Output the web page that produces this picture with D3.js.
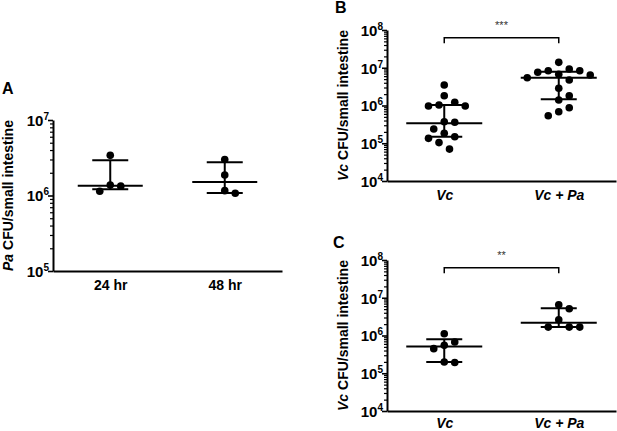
<!DOCTYPE html>
<html>
<head>
<meta charset="utf-8">
<script src="https://cdn.jsdelivr.net/npm/d3@7"></script>
<style>
  body { margin: 0; background: #fff; }
  svg { font-family: "Liberation Sans", Arial, sans-serif; }
</style>
</head>
<body>
<div id="chart"></div>
<script>
// ---- data ----
var groupsA = ["24 hr", "48 hr"];
var valuesA = [
  [3.4e6, 1.38e6, 1.33e6, 1.14e6],
  [3.0e6, 1.87e6, 1.07e6, 1.16e6]
];
var medianA = [1.35e6, 1.51e6];
var lowerA = [1.21e6, 1.08e6];
var upperA = [2.93e6, 2.75e6];

var groupsB = ["Vc", "Vc + Pa"];
var valuesB = [
  [3.49e6, 1.82e6, 1.22e6, 9.7e5, 1.03e6, 9.7e5, 3.59e5, 3.72e5, 2.38e5, 1.84e5, 1.35e5, 1.49e5, 1.04e5, 7.0e4],
  [1.39e7, 9.27e6, 8.36e6, 7.57e6, 8.36e6, 5.45e6, 6.7e6, 6.43e6, 4.73e6, 2.86e6, 1.82e6, 1.4e6, 8.75e5, 6.86e5, 5.37e5]
];
var medianB = [3.37e5, 5.45e6];
var lowerB = [1.49e5, 1.46e6];
var upperB = [1.03e6, 7.85e6];
var signifB = "***";

var groupsC = ["Vc", "Vc + Pa"];
var valuesC = [
  [1.11e6, 5.48e5, 6.7e5, 4.49e5, 1.92e5, 1.99e5],
  [6.5e6, 5.1e6, 2.61e6, 1.67e6, 1.67e6, 1.67e6]
];
var medianC = [5.15e5, 2.18e6];
var lowerC = [1.99e5, 1.67e6];
var upperC = [7.9e5, 5.28e6];
var signifC = "**";

var svg = d3.select("#chart")
  .append("svg")
    .attr("width", 617)
    .attr("height", 431);

// draw one panel of the figure
function drawPanel(opt) {
  var width = 229, height = 151;
  var g = svg.append("g")
    .attr("transform", "translate(" + opt.left + "," + opt.top + ")");

  var x = d3.scalePoint()
    .domain(opt.groups)
    .range([0, width])
    .padding(0.5);

  var y = d3.scaleLog()
    .domain(opt.yDomain)
    .range([height, 0]);

  var lo = Math.log10(opt.yDomain[0]), hi = Math.log10(opt.yDomain[1]);
  var majors = d3.range(lo, hi + 1).map(function (e) { return Math.pow(10, e); });
  var minors = [];
  d3.range(lo, hi).forEach(function (e) {
    for (var m = 2; m <= 9; m++) minors.push(m * Math.pow(10, e));
  });

  // minor ticks
  g.append("g")
    .call(d3.axisLeft(y).tickValues(minors).tickSize(3).tickFormat(""))
    .call(function (a) { a.select(".domain").remove(); })
    .selectAll("line").attr("stroke-width", 1.2);

  // major ticks + labels
  var yAxis = g.append("g")
    .call(d3.axisLeft(y).tickValues(majors).tickSize(5).tickSizeOuter(0).tickFormat(""));
  yAxis.select(".domain").attr("stroke-width", 2);
  yAxis.selectAll("line").attr("stroke-width", 1.6);
  yAxis.selectAll(".tick").append("text")
    .attr("x", -4)
    .attr("dy", "0.35em")
    .attr("fill", "#000")
    .attr("text-anchor", "end")
    .style("font-size", "15px")
    .style("font-weight", "bold")
    .each(function (d) {
      var t = d3.select(this);
      t.append("tspan").text("10");
      t.append("tspan")
        .attr("dy", "-0.6em")
        .style("font-size", "10px")
        .text(Math.round(Math.log10(d)));
    });

  // x axis
  var xAxis = g.append("g")
    .attr("transform", "translate(0," + height + ")")
    .call(d3.axisBottom(x).tickSize(0).tickPadding(0).tickFormat(""));
  xAxis.select(".domain").attr("stroke-width", 2);
  xAxis.selectAll(".tick").append("text")
    .attr("y", opt.xLabelY)
    .attr("fill", "#000")
    .attr("text-anchor", "middle")
    .style("font-size", "14px")
    .style("font-weight", "bold")
    .style("font-style", opt.italicX ? "italic" : "normal")
    .text(function (d) { return d; });

  // y axis title
  var title = g.append("text")
    .attr("transform", "translate(" + opt.titleX + "," + (height / 2) + ") rotate(-90)")
    .attr("text-anchor", "middle")
    .style("font-size", "14px")
    .style("font-weight", "bold");
  title.append("tspan").style("font-style", "italic").text(opt.titleItalic);
  title.append("tspan").text(" CFU/small intestine");

  // panel letter
  svg.append("text")
    .attr("x", opt.letterX)
    .attr("y", opt.letterY)
    .style("font-size", "16px")
    .style("font-weight", "bold")
    .text(opt.letter);

  // dots, spread sideways so they don't overlap
  var D = 10.5, step = D / 2;
  opt.values.forEach(function (vals, gi) {
    var cx = x(opt.groups[gi]);
    var placed = [];
    vals.slice().sort(function (a, b) { return b - a; }).forEach(function (v) {
      var py = y(v);
      for (var k = 0; k < 40; k++) {
        var off = (k % 2 === 1 ? 1 : -1) * Math.ceil(k / 2) * step;
        var hit = placed.some(function (p) {
          return Math.hypot(p.dx - off, p.y - py) < D;
        });
        if (!hit) { placed.push({dx: off, y: py}); break; }
      }
    });
    g.append("g")
      .selectAll("circle")
      .data(placed)
      .enter()
      .append("circle")
        .attr("cx", function (p) { return cx + p.dx; })
        .attr("cy", function (p) { return p.y; })
        .attr("r", 3.8)
        .style("fill", "#000");

    // median and interquartile whiskers
    var mw = opt.medianWidth / 2, ww = 18;
    g.append("line")
      .attr("x1", cx).attr("x2", cx)
      .attr("y1", y(opt.upper[gi])).attr("y2", y(opt.lower[gi]))
      .attr("stroke", "#000").attr("stroke-width", 2);
    g.append("line")
      .attr("x1", cx - mw).attr("x2", cx + mw)
      .attr("y1", y(opt.median[gi])).attr("y2", y(opt.median[gi]))
      .attr("stroke", "#000").attr("stroke-width", 2);
    [opt.upper[gi], opt.lower[gi]].forEach(function (v) {
      g.append("line")
        .attr("x1", cx - ww).attr("x2", cx + ww)
        .attr("y1", y(v)).attr("y2", y(v))
        .attr("stroke", "#000").attr("stroke-width", 2);
    });
  });

  // significance bracket
  if (opt.signif) {
    var x1 = x(opt.groups[0]), x2 = x(opt.groups[1]);
    var by = 7.7;
    g.append("path")
      .attr("d", "M" + x1 + "," + (by + 5.6) + "V" + by + "H" + x2 + "V" + (by + 5.6))
      .attr("fill", "none")
      .attr("stroke", "#000")
      .attr("stroke-width", 1.5);
    g.append("text")
      .attr("x", (x1 + x2) / 2)
      .attr("y", by - 9)
      .attr("text-anchor", "middle")
      .style("font-size", "11px")
      .style("fill", "#333")
      .text(opt.signif);
  }
}

drawPanel({
  left: 53, top: 120, groups: groupsA, values: valuesA,
  median: medianA, lower: lowerA, upper: upperA,
  yDomain: [1e5, 1e7], medianWidth: 65, italicX: false, xLabelY: 19,
  titleX: -40, titleItalic: "Pa",
  letter: "A", letterX: 2, letterY: 94
});

drawPanel({
  left: 387, top: 30, groups: groupsB, values: valuesB,
  median: medianB, lower: lowerB, upper: upperB,
  yDomain: [1e4, 1e8], medianWidth: 76, italicX: true, xLabelY: 19,
  titleX: -39, titleItalic: "Vc", signif: signifB,
  letter: "B", letterX: 335, letterY: 13
});

drawPanel({
  left: 387, top: 260, groups: groupsC, values: valuesC,
  median: medianC, lower: lowerC, upper: upperC,
  yDomain: [1e4, 1e8], medianWidth: 76, italicX: true, xLabelY: 17,
  titleX: -39, titleItalic: "Vc", signif: signifC,
  letter: "C", letterX: 333, letterY: 248
});
</script>
</body>
</html>
